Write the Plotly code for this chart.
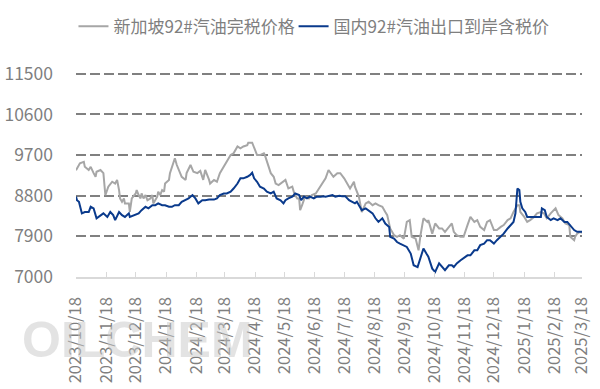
import plotly.graph_objects as go

sg_dates = ["2023-10-18","2023-10-22","2023-10-26","2023-10-27","2023-10-31","2023-11-02","2023-11-05","2023-11-07","2023-11-08","2023-11-12",
"2023-11-15","2023-11-17","2023-11-20","2023-11-24","2023-11-27","2023-11-29","2023-12-01","2023-12-02","2023-12-04","2023-12-06",
"2023-12-07","2023-12-11","2023-12-12","2023-12-14","2023-12-18","2023-12-19","2023-12-21","2023-12-23","2023-12-24","2023-12-26",
"2023-12-28","2023-12-30","2024-01-02","2024-01-04","2024-01-05","2024-01-07","2024-01-09","2024-01-10","2024-01-12","2024-01-14",
"2024-01-16","2024-01-17","2024-01-21","2024-01-22","2024-01-24","2024-01-27","2024-01-29","2024-01-31","2024-02-03","2024-02-07",
"2024-02-08","2024-02-12","2024-02-15","2024-02-19","2024-02-22","2024-02-25","2024-02-27","2024-03-02","2024-03-03","2024-03-07",
"2024-03-10","2024-03-13","2024-03-17","2024-03-20","2024-03-24","2024-03-27","2024-03-31","2024-04-03","2024-04-06","2024-04-10",
"2024-04-11","2024-04-15","2024-04-17","2024-04-20","2024-04-23","2024-04-27","2024-04-28","2024-04-30","2024-05-04","2024-05-07",
"2024-05-09","2024-05-12","2024-05-16","2024-05-19","2024-05-22","2024-05-26","2024-05-28","2024-05-31","2024-06-02","2024-06-03",
"2024-06-05","2024-06-08","2024-06-12","2024-06-15","2024-06-19","2024-06-22","2024-06-25","2024-06-29","2024-07-02","2024-07-04",
"2024-07-07","2024-07-11","2024-07-14","2024-07-18","2024-07-21","2024-07-24","2024-07-28","2024-07-29","2024-08-02","2024-08-05",
"2024-08-09","2024-08-12","2024-08-16","2024-08-19","2024-08-22","2024-08-26","2024-08-29","2024-08-31","2024-09-03","2024-09-07",
"2024-09-10","2024-09-13","2024-09-17","2024-09-20","2024-09-23","2024-09-25","2024-09-29","2024-10-02","2024-10-04","2024-10-07",
"2024-10-11","2024-10-12","2024-10-16","2024-10-19","2024-10-23","2024-10-26","2024-10-29","2024-11-02","2024-11-05","2024-11-07",
"2024-11-10","2024-11-14","2024-11-17","2024-11-21","2024-11-24","2024-11-28","2024-12-01","2024-12-04","2024-12-08","2024-12-11",
"2024-12-14","2024-12-18","2024-12-21","2024-12-25","2024-12-28","2025-01-01","2025-01-04","2025-01-07","2025-01-11","2025-01-13",
"2025-01-14","2025-01-18","2025-01-21","2025-01-24","2025-01-28","2025-01-31","2025-02-04","2025-02-07","2025-02-10","2025-02-14",
"2025-02-17","2025-02-19","2025-02-22","2025-02-26","2025-03-01","2025-03-05","2025-03-06","2025-03-10","2025-03-11","2025-03-13",
"2025-03-16","2025-03-18"]
sg_values = [9365,9520,9550,9440,9370,9440,9300,9220,9330,9370,
9300,8810,9000,9110,9070,9150,8925,8740,8665,8740,
8630,8630,8440,8740,8850,8925,8815,8740,8850,8740,
8815,8700,8740,8815,8630,8700,8780,8890,8815,8925,
8890,9070,9150,9300,9440,9630,9480,9370,9220,9150,
9300,9480,9330,9300,9350,9150,9370,9150,9070,9150,
9110,9300,9440,9550,9700,9740,9890,9850,9890,9920,
9975,9975,9850,9700,9700,9740,9700,9550,9300,9220,
9070,9035,9110,9150,8960,9000,8850,8740,8740,8480,
8590,8780,8740,8815,8850,8960,9070,9185,9370,9300,
9220,9300,9300,9185,9070,8960,9110,9000,8780,8440,
8630,8665,8590,8630,8590,8555,8440,8370,8075,7925,
7890,7925,7850,8220,8260,7890,7850,7590,7925,8300,
8220,8260,7960,8185,8075,8075,8000,8110,8185,8000,
7925,7890,7890,8150,8330,8220,8260,8110,8040,8220,
8260,8040,8040,8110,8150,8260,8300,8440,8590,8590,
8440,8330,8220,8260,8330,8410,8440,8410,8300,8410,
8480,8520,8370,8300,8185,8150,7890,7815,7890,7960,
8000,7980]

cn_dates = ["2023-10-18","2023-10-19","2023-10-21","2023-10-22","2023-10-24","2023-10-27","2023-10-31","2023-11-02","2023-11-05","2023-11-08",
"2023-11-12","2023-11-15","2023-11-19","2023-11-22","2023-11-25","2023-11-27","2023-12-01","2023-12-04","2023-12-07","2023-12-11",
"2023-12-12","2023-12-16","2023-12-21","2023-12-24","2023-12-28","2023-12-31","2024-01-04","2024-01-07","2024-01-10","2024-01-14",
"2024-01-17","2024-01-21","2024-01-24","2024-01-27","2024-01-31","2024-02-03","2024-02-07","2024-02-10","2024-02-14","2024-02-17",
"2024-02-20","2024-02-24","2024-02-27","2024-03-02","2024-03-07","2024-03-10","2024-03-13","2024-03-17","2024-03-20","2024-03-24",
"2024-03-27","2024-03-31","2024-04-03","2024-04-06","2024-04-10","2024-04-13","2024-04-15","2024-04-17","2024-04-20","2024-04-23",
"2024-04-27","2024-04-30","2024-05-04","2024-05-07","2024-05-10","2024-05-14","2024-05-17","2024-05-19","2024-05-22","2024-05-26",
"2024-05-29","2024-06-02","2024-06-04","2024-06-07","2024-06-10","2024-06-13","2024-06-17","2024-06-20","2024-06-24","2024-06-27",
"2024-06-29","2024-07-02","2024-07-06","2024-07-09","2024-07-13","2024-07-16","2024-07-19","2024-07-23","2024-07-26","2024-07-29",
"2024-07-31","2024-08-02","2024-08-05","2024-08-09","2024-08-12","2024-08-16","2024-08-19","2024-08-22","2024-08-26","2024-08-29",
"2024-09-02","2024-09-03","2024-09-07","2024-09-10","2024-09-13","2024-09-17","2024-09-20","2024-09-24","2024-09-27","2024-10-01",
"2024-10-04","2024-10-07","2024-10-10","2024-10-12","2024-10-16","2024-10-19","2024-10-23","2024-10-26","2024-10-29","2024-11-02",
"2024-11-05","2024-11-07","2024-11-10","2024-11-14","2024-11-17","2024-11-21","2024-11-24","2024-11-28","2024-12-01","2024-12-04",
"2024-12-08","2024-12-11","2024-12-14","2024-12-18","2024-12-21","2024-12-25","2024-12-28","2025-01-01","2025-01-04","2025-01-07",
"2025-01-09","2025-01-11","2025-01-13","2025-01-14","2025-01-16","2025-01-19","2025-01-21","2025-01-26","2025-01-31","2025-02-04",
"2025-02-05","2025-02-08","2025-02-10","2025-02-14","2025-02-17","2025-02-21","2025-02-24","2025-02-28","2025-03-03","2025-03-06",
"2025-03-10","2025-03-13","2025-03-16","2025-03-18"]
cn_values = [8780,8700,8665,8590,8410,8440,8440,8555,8520,8300,
8370,8410,8330,8440,8370,8260,8440,8370,8330,8410,
8330,8370,8410,8480,8555,8520,8590,8590,8630,8590,
8590,8555,8555,8590,8590,8665,8700,8740,8815,8740,
8630,8700,8700,8715,8715,8740,8815,8850,8850,8890,
8960,9070,9185,9185,9220,9260,9310,9185,9110,9000,
8960,8890,8850,8890,8740,8700,8630,8700,8740,8780,
8850,8815,8700,8780,8740,8780,8740,8780,8780,8790,
8780,8790,8815,8780,8800,8790,8790,8700,8665,8630,
8665,8590,8480,8520,8480,8410,8300,8220,8300,8185,
8110,7890,7850,7775,7740,7705,7665,7520,7260,7220,
7410,7630,7520,7450,7185,7110,7300,7220,7150,7260,
7260,7220,7300,7370,7410,7480,7480,7590,7590,7705,
7740,7815,7815,7740,7815,7890,7960,8075,8150,8220,
8410,8960,8925,8665,8520,8440,8330,8330,8330,8330,
8520,8480,8330,8260,8300,8260,8300,8220,8220,8150,
8040,8000,8000,8000]

tick_dates = ["2023-10-18","2023-11-18","2023-12-18","2024-01-18","2024-02-18","2024-03-18",
              "2024-04-18","2024-05-18","2024-06-18","2024-07-18","2024-08-18","2024-09-18",
              "2024-10-18","2024-11-18","2024-12-18","2025-01-18","2025-02-18","2025-03-18"]
tick_labels = ["2023/10/18","2023/11/18","2023/12/18","2024/1/18","2024/2/18","2024/3/18",
               "2024/4/18","2024/5/18","2024/6/18","2024/7/18","2024/8/18","2024/9/18",
               "2024/10/18","2024/11/18","2024/12/18","2025/1/18","2025/2/18","2025/3/18"]
y_ticks = [7000, 7900, 8800, 9700, 10600, 11500]
y_labels = ["7000", "7900", "8800", "9700", "10600", "11500"]

series_names = ["新加坡92#汽油完税价格", "国内92#汽油出口到岸含税价"]

FONT = "Noto Sans CJK SC"
TXT = "#7f7f7f"

fig = go.Figure()
fig.add_trace(go.Scatter(x=sg_dates, y=sg_values, mode="lines", name=series_names[0],
                         line=dict(color="#a6a6a6", width=2), legend="legend"))
fig.add_trace(go.Scatter(x=cn_dates, y=cn_values, mode="lines", name=series_names[1],
                         line=dict(color="#0a3a8c", width=2), legend="legend2"))

fig.add_annotation(text="<b>OILCHEM</b>", xref="paper", yref="paper", x=-0.11, y=-0.3076,
                   xanchor="left", yanchor="middle", showarrow=False,
                   font=dict(family="Liberation Sans", size=50, color="rgba(200,200,200,0.5)"))

leg_common = dict(orientation="h", xanchor="left", yanchor="middle", y=1.2207,
                  font=dict(family=FONT, size=17, color=TXT), itemwidth=30,
                  bgcolor="rgba(0,0,0,0)")

fig.update_layout(
    width=600, height=389,
    margin=dict(l=76, r=18, t=72.2, b=112, autoexpand=False),
    paper_bgcolor="white", plot_bgcolor="white",
    font=dict(family=FONT, size=17, color=TXT),
    showlegend=True,
    legend=dict(x=-0.005, **leg_common),
    legend2=dict(x=0.430, **leg_common),
    xaxis=dict(type="date", range=["2023-10-18", "2025-03-18"], automargin=False,
               tickmode="array", tickvals=tick_dates, ticktext=tick_labels,
               tickangle=-90, ticks="inside", ticklen=5, tickcolor="#d9d9d9",
               showline=True, linecolor="#d9d9d9", linewidth=1.5,
               showgrid=False, zeroline=False, ticklabelstandoff=12,
               tickfont=dict(family=FONT, size=16.5, color=TXT)),
    yaxis=dict(range=[7000, 11540], tickmode="array", tickvals=y_ticks, ticktext=y_labels,
               automargin=False,
               showgrid=True, gridcolor="#808080", gridwidth=2, griddash="10px,4px",
               showline=False, zeroline=False, ticks="", ticklabelstandoff=22,
               tickfont=dict(family=FONT, size=17.5, color=TXT)),
)

fig.write_html("out.html", config={"displayModeBar": False, "staticPlot": True},
               post_script="document.body.style.margin='0';document.body.style.overflow='hidden';")
